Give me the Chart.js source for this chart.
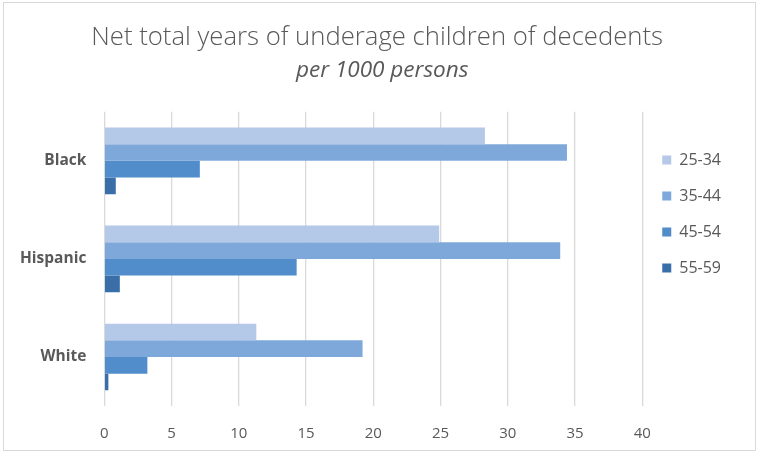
<!DOCTYPE html>
<html>
<head>
<meta charset="utf-8">
<script src="https://cdn.jsdelivr.net/npm/chart.js@4/dist/chart.umd.min.js"></script>
<style>
  html, body { margin: 0; padding: 0; background: #fff; overflow: hidden; }
  #frame {
    position: absolute; left: 3px; top: 2px; width: 753px; height: 449px;
    border: 1px solid #d9d9d9; box-sizing: border-box; z-index: 1;
  }
  #wrap { position: absolute; left: 0; top: 0; width: 761px; height: 456px; overflow: hidden; }
</style>
</head>
<body>
<div id="wrap"><canvas id="chart" width="761" height="462"></canvas></div>
<div id="frame"></div>
<script>
// Groups and age bands
const groups = ['Black', 'Hispanic', 'White'];
const ageBands = ['25-34', '35-44', '45-54', '55-59'];

// Net years per 1000 persons, one array per age band (Black, Hispanic, White)
const age25to34 = [28.3, 24.9, 11.3];
const age35to44 = [34.4, 33.9, 19.2];
const age45to54 = [7.1, 14.3, 3.2];
const age55to59 = [0.85, 1.15, 0.3];

const xTicks = [0, 5, 10, 15, 20, 25, 30, 35, 40];

const bandColors = ['#b4c8e8', '#7ea8da', '#508dca', '#3a6ea8'];
const seriesValues = [age25to34, age35to44, age45to54, age55to59];

const FONT = '"Open Sans", "Liberation Sans", sans-serif';

const ctx = document.getElementById('chart').getContext('2d');
new Chart(ctx, {
  type: 'bar',
  data: {
    labels: groups,
    datasets: ageBands.map((band, i) => ({
      label: band,
      data: seriesValues[i],
      backgroundColor: bandColors[i],
      borderWidth: 0,
      barPercentage: 1.0,
      categoryPercentage: 0.68,
    }))
  },
  options: {
    indexAxis: 'y',
    responsive: false,
    animation: false,
    layout: { padding: { left: 10, right: 30, top: 14, bottom: 0 } },
    scales: {
      x: {
        min: xTicks[0],
        max: xTicks[xTicks.length - 1],
        afterBuildTicks: axis => { axis.ticks = xTicks.map(v => ({ value: v })); },
        grid: { color: '#d9d9d9', lineWidth: 1.3, drawTicks: false },
        border: { display: false },
        ticks: { color: '#595959', font: { family: FONT, size: 15 }, padding: 19 }
      },
      y: {
        grid: { display: false },
        border: { display: false },
        ticks: { color: '#595959', font: { family: FONT, size: 15.5, weight: 'bold' }, padding: 10 }
      }
    },
    plugins: {
      title: {
        display: true,
        // leading spaces nudge the centred heading a little to the right
        text: '  Net total years of underage children of decedents',
        color: '#595959',
        font: { family: FONT, size: 25.7, weight: 300 },
        padding: { top: 8, bottom: 4 }
      },
      subtitle: {
        display: true,
        text: '    per 1000 persons',
        color: '#595959',
        font: { family: FONT, size: 22.5, style: 'italic' },
        padding: { bottom: 28 }
      },
      legend: {
        position: 'right',
        align: 'start',
        // empty title used as a spacer so the keys sit beside the bars
        title: { display: true, text: ' ', font: { size: 10 }, padding: { top: 0, bottom: 106 } },
        labels: {
          color: '#595959',
          font: { family: FONT, size: 16 },
          boxWidth: 9,
          boxHeight: 9,
          padding: 20
        }
      },
      tooltip: { enabled: false }
    }
  }
});
</script>
</body>
</html>
